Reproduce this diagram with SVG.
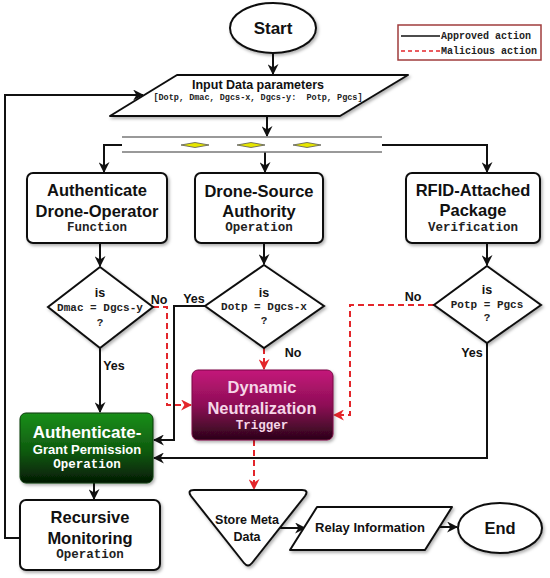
<svg xmlns="http://www.w3.org/2000/svg" width="550" height="578" viewBox="0 0 550 578">
<style>
.node{fill:#fff;stroke:#111;stroke-width:2}
.t{font-family:"Liberation Sans",Arial,sans-serif;font-weight:bold;fill:#111;text-anchor:middle;dominant-baseline:central}
.m{font-family:"Liberation Mono","Courier New",monospace;font-weight:bold;fill:#222;text-anchor:middle;dominant-baseline:central}
.big{font-size:16.5px}
.mid{font-size:12.5px}
.sub{font-size:12.5px}
.lab{font-size:12.5px}
.cond{font-size:11px}
.c{fill:none;stroke:#111;stroke-width:2}
.r{fill:none;stroke:#e3262b;stroke-width:2;stroke-dasharray:6,4}
.w{fill:#fff}
.pk{fill:#f6d6e8}
</style>
<defs>
<marker id="ab" viewBox="0 0 10 10" refX="9" refY="5" markerWidth="11" markerHeight="11" markerUnits="userSpaceOnUse" orient="auto">
<path d="M0,0 L10,5 L0,10 L3,5 z" fill="#111"/>
</marker>
<marker id="ar" viewBox="0 0 10 10" refX="9" refY="5" markerWidth="11" markerHeight="11" markerUnits="userSpaceOnUse" orient="auto">
<path d="M0,0 L10,5 L0,10 L3,5 z" fill="#e3262b"/>
</marker>
<linearGradient id="gG" x1="0" y1="0" x2="0" y2="1">
<stop offset="0" stop-color="#1a8f1a"/>
<stop offset="0.55" stop-color="#0f5a0f"/>
<stop offset="1" stop-color="#041a04"/>
</linearGradient>
<linearGradient id="gM" x1="0" y1="0" x2="0" y2="1">
<stop offset="0" stop-color="#c4167a"/>
<stop offset="0.5" stop-color="#8e0f56"/>
<stop offset="1" stop-color="#2a0418"/>
</linearGradient>
<filter id="sh" x="-10%" y="-10%" width="125%" height="130%">
<feDropShadow dx="1.5" dy="2" stdDeviation="1.5" flood-color="#000" flood-opacity="0.3"/>
</filter>
</defs>

<g id="legend">
<rect x="398" y="25" width="143" height="35" fill="#fff" stroke="#a03c3c" stroke-width="1.5"/>
<line x1="401" y1="36" x2="440" y2="36" stroke="#111" stroke-width="1.5"/>
<line x1="401" y1="51" x2="440" y2="51" stroke="#e3262b" stroke-width="1.5" stroke-dasharray="4,3"/>
<text class="m" x="441" y="36" style="font-size:10px;text-anchor:start">Approved action</text>
<text class="m" x="441" y="51" style="font-size:10px;text-anchor:start">Malicious action</text>
</g>

<g id="connectors">
<path class="c" d="M273,53 V74" marker-end="url(#ab)"/>
<path class="c" d="M267,116 V136" marker-end="url(#ab)"/>
<path class="c" d="M122,145 H104 V172" marker-end="url(#ab)"/>
<path class="c" d="M265,152 V172" marker-end="url(#ab)"/>
<path class="c" d="M382,145 H487 V172" marker-end="url(#ab)"/>
<path class="c" d="M100,243 V266" marker-end="url(#ab)"/>
<path class="c" d="M264,243 V264" marker-end="url(#ab)"/>
<path class="c" d="M487,243 V265" marker-end="url(#ab)"/>
<path class="c" d="M100,348 V412" marker-end="url(#ab)"/>
<path class="r" d="M153,307 H167 V405 H191" marker-end="url(#ar)"/>
<path class="c" d="M205,306 H174 V440 H154" marker-end="url(#ab)"/>
<path class="r" d="M264,348 V369" marker-end="url(#ar)"/>
<path class="r" d="M434,305 H350 V415 H334" marker-end="url(#ar)"/>
<path class="c" d="M487,343 V458 H154" marker-end="url(#ab)"/>
<path class="c" d="M94,483 V499" marker-end="url(#ab)"/>
<path class="c" d="M20,538 H5 V95 H143" marker-end="url(#ab)"/>
<path class="r" d="M254,440 V489" marker-end="url(#ar)"/>
<path class="c" d="M280,528 H305" marker-end="url(#ab)"/>
<path class="c" d="M438,527 H457" marker-end="url(#ab)"/>
</g>

<g id="start">
<ellipse class="node" cx="273" cy="28" rx="43" ry="25" filter="url(#sh)"/>
<text class="t" x="273" y="28" style="font-size:17px">Start</text>
</g>

<g id="input">
<polygon class="node" points="177,75 408,75 340,116 110,116" stroke-linejoin="round" filter="url(#sh)"/>
<text class="t" x="258" y="85" style="font-size:12.5px">Input Data parameters</text>
<text class="m" x="258" y="98" style="font-size:8.5px" xml:space="preserve">[Dotp, Dmac, Dgcs-x, Dgcs-y:  Potp, Pgcs]</text>
</g>

<g id="fork">
<line x1="122" y1="137" x2="382" y2="137" stroke="#777" stroke-width="1.5"/>
<line x1="122" y1="152" x2="382" y2="152" stroke="#777" stroke-width="1.5"/>
<polygon points="181,145 195,142.5 209,145 195,147.5" fill="#e6e600" stroke="#555" stroke-width="0.8"/>
<polygon points="237,145 251,142.5 265,145 251,147.5" fill="#e6e600" stroke="#555" stroke-width="0.8"/>
<polygon points="293,145 307,142.5 321,145 307,147.5" fill="#e6e600" stroke="#555" stroke-width="0.8"/>
</g>

<g id="auth-operator">
<rect class="node" x="27" y="173" width="140" height="70" rx="6" filter="url(#sh)"/>
<text class="t big" x="97" y="190">Authenticate</text>
<text class="t big" x="97" y="211">Drone-Operator</text>
<text class="m sub" x="97" y="228">Function</text>
</g>

<g id="drone-source">
<rect class="node" x="195" y="173" width="128" height="70" rx="6" filter="url(#sh)"/>
<text class="t big" x="259" y="191">Drone-Source</text>
<text class="t big" x="259" y="211">Authority</text>
<text class="m sub" x="259" y="228">Operation</text>
</g>

<g id="rfid">
<rect class="node" x="406" y="173" width="134" height="70" rx="6" filter="url(#sh)"/>
<text class="t big" x="473" y="190">RFID-Attached</text>
<text class="t big" x="473" y="210">Package</text>
<text class="m sub" x="473" y="228">Verification</text>
</g>

<g id="dec-dmac">
<polygon class="node" points="100,267 153,307 100,348 48,307" filter="url(#sh)"/>
<text class="t lab" x="100" y="293">is</text>
<text class="m cond" x="100" y="308">Dmac = Dgcs-y</text>
<text class="m cond" x="100" y="323">?</text>
</g>

<g id="dec-dotp">
<polygon class="node" points="264,265 324,306 264,348 205,306" filter="url(#sh)"/>
<text class="t lab" x="264" y="293">is</text>
<text class="m cond" x="264" y="307">Dotp = Dgcs-x</text>
<text class="m cond" x="264" y="321">?</text>
</g>

<g id="dec-potp">
<polygon class="node" points="487,266 541,305 487,343 434,305" filter="url(#sh)"/>
<text class="t lab" x="487" y="290">is</text>
<text class="m cond" x="487" y="305">Potp = Pgcs</text>
<text class="m cond" x="487" y="318">?</text>
</g>

<g id="labels">
<text class="t lab" x="159" y="300">No</text>
<text class="t lab" x="194" y="299">Yes</text>
<text class="t lab" x="293" y="353">No</text>
<text class="t lab" x="114" y="366">Yes</text>
<text class="t lab" x="413" y="297">No</text>
<text class="t lab" x="472" y="353">Yes</text>
</g>

<g id="dynamic">
<rect x="192" y="370" width="141" height="70" rx="6" fill="url(#gM)" stroke="#7a0c44" stroke-width="1" filter="url(#sh)"/>
<text class="t big pk" x="262" y="387">Dynamic</text>
<text class="t big pk" x="262" y="408">Neutralization</text>
<text class="m sub pk" x="262" y="426">Trigger</text>
</g>

<g id="grant">
<rect x="20" y="413" width="133" height="70" rx="6" fill="url(#gG)" stroke="#0a3a0a" stroke-width="1" filter="url(#sh)"/>
<text class="t w" x="87" y="432" style="font-size:17px">Authenticate-</text>
<text class="t w" x="87" y="449" style="font-size:13px">Grant Permission</text>
<text class="m sub w" x="87" y="465">Operation</text>
</g>

<g id="recursive">
<rect class="node" x="20" y="500" width="140" height="70" rx="6" filter="url(#sh)"/>
<text class="t big" x="90" y="517">Recursive</text>
<text class="t big" x="90" y="538">Monitoring</text>
<text class="m sub" x="90" y="555">Operation</text>
</g>

<g id="store">
<path class="node" d="M194,490 L302,490 Q309,490 305,496 L252,563 Q248,568 244,563 L191,496 Q187,490 194,490 Z" filter="url(#sh)"/>
<text class="t lab" x="247" y="520">Store Meta</text>
<text class="t lab" x="247" y="537">Data</text>
</g>

<g id="relay">
<polygon class="node" points="317,507 452,507 425,550 290,550" stroke-linejoin="round" filter="url(#sh)"/>
<text class="t" x="370" y="527" style="font-size:13px">Relay Information</text>
</g>

<g id="end">
<ellipse class="node" cx="500" cy="528" rx="42" ry="25" filter="url(#sh)"/>
<text class="t" x="500" y="528" style="font-size:16.5px">End</text>
</g>
</svg>
